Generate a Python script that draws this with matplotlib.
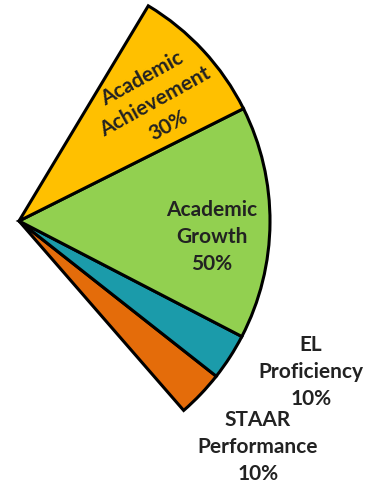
import numpy as np
import matplotlib.pyplot as plt

# wedge order goes counter-clockwise from the bottom edge
labels = ['STAAR\nPerformance\n10%', 'EL\nProficiency\n10%',
          'Academic\nGrowth\n50%', 'Academic\nAchievement\n30%']
shares = [10, 10, 50, 30]
colors = ['#E46C0A', '#1B9BAA', '#92D050', '#FFC000']

fan = 0.3  # the whole fan covers 30% of a circle

fig = plt.figure(figsize=(3.66, 4.88), dpi=100)
ax = fig.add_axes([0, 0, 1, 1])

fracs = np.array(shares) / 100 * fan
wedges, _ = ax.pie(
    fracs,
    colors=colors,
    normalize=False,
    startangle=-49,
    counterclock=True,
    center=(19, 267),
    radius=251,
    wedgeprops=dict(edgecolor='black', linewidth=2.2, joinstyle='miter'),
)
ax.set_xlim(0, 366)
ax.set_ylim(0, 488)
ax.set_aspect('equal')
ax.axis('off')

font = dict(family=['Lato', 'DejaVu Sans'], fontweight='bold', fontsize=15,
            color='#222222', ha='center', va='center', linespacing=1.42)

ax.text(155, 386, labels[3], rotation=29, **font)
ax.text(212, 251, labels[2], **font)
ax.text(311, 116, labels[1], **font)
ax.text(258, 41, labels[0], **font)

fig.savefig('out.png', dpi=100)
